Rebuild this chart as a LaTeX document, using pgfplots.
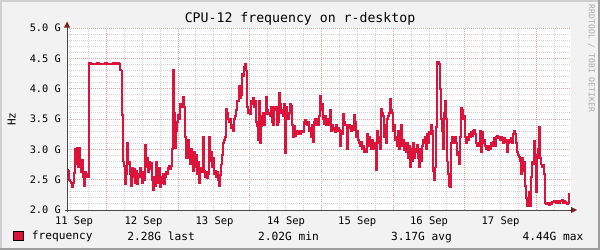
\documentclass[border=0pt]{standalone}
\usepackage{pgfplots}
\pgfplotsset{compat=1.18}
\usepackage{fontspec}
\setmainfont{DejaVu Sans Mono}
\definecolor{crim}{RGB}{220,20,60}
\definecolor{bgc}{RGB}{242,242,242}
\definecolor{shadea}{RGB}{207,207,207}
\definecolor{shadeb}{RGB}{158,158,158}
\definecolor{mgrid}{RGB}{230,165,165}
\definecolor{gridc}{RGB}{212,212,212}
\definecolor{axisc}{RGB}{70,70,70}
\definecolor{arrowc}{RGB}{128,30,30}
\definecolor{wm}{RGB}{170,170,170}
\begin{document}
\begin{tikzpicture}
\fill[bgc] (0,0) rectangle (600bp,-250bp);
\fill[shadea] (0,0) rectangle (600bp,-2bp);
\fill[shadea] (0,0) rectangle (2bp,-250bp);
\fill[shadeb] (0,-248bp) rectangle (600bp,-250bp);
\fill[shadeb] (598bp,0) rectangle (600bp,-250bp);
\begin{axis}[
 scale only axis, width=504bp, height=182bp,
 at={(67bp,-210bp)}, anchor=south west,
 xmin=67, xmax=571, ymin=2, ymax=5,
 axis line style={draw=none},
 axis background/.style={fill=white},
 xtick={106.3,178.0,249.7,321.4,393.1,464.8,536.5},
 xticklabels={},
 minor xtick={70.45,88.38,124.2,142.1,160.1,195.9,213.9,231.8,267.6,285.6,303.5,339.3,357.3,375.2,411.0,429.0,446.9,482.7,500.7,518.6,554.4},
 ytick={2,2.5,3,3.5,4,4.5,5},
 yticklabels={2.0 G,2.5 G,3.0 G,3.5 G,4.0 G,4.5 G,5.0 G},
 minor ytick={2.1,2.2,2.3,2.4,2.6,2.7,2.8,2.9,3.1,3.2,3.3,3.4,3.6,3.7,3.8,3.9,4.1,4.2,4.3,4.4,4.6,4.7,4.8,4.9},
 grid=both,
 major grid style={mgrid, line width=0.9bp, dash pattern=on 1bp off 1bp},
 minor grid style={gridc, line width=0.9bp, dash pattern=on 1bp off 1bp},
 major tick length=0pt, minor tick length=0pt,
 yticklabel style={anchor=east, inner sep=0pt, xshift=-6bp, font=\fontsize{10.3bp}{12bp}\selectfont},
 extra x ticks={74,143.5,214.5,286,357.2,429,500.5},
 extra x tick labels={11 Sep,12 Sep,13 Sep,14 Sep,15 Sep,16 Sep,17 Sep},
 extra x tick style={grid=none, major tick length=0pt, xticklabel style={anchor=north, inner sep=0pt, yshift=-6.5bp, font=\fontsize{10.5bp}{12bp}\selectfont}},
 legend style={draw=none, fill=none, inner sep=0pt, outer sep=0pt, at={(-0.1071,-0.1429)}, anchor=west, nodes={inner sep=0pt}, font=\fontsize{11.2bp}{13bp}\selectfont},
 legend image code/.code={\draw[fill=crim, draw=black, line width=1bp] (0bp,-4.5bp) rectangle (9.5bp,4.5bp); \path (17.5bp,0bp);},
]
\addplot[const plot, crim, line width=1.9bp] coordinates {
(67,2.66) (68,2.64) (69,2.50) (70,2.47) (71,2.45) (72,2.38) (73,2.45) (74,2.61) (75,3.00) (76,2.75)
(77,3.02) (78,2.70) (79,3.02) (80,2.80) (81,2.62) (82,2.82) (83,2.55) (84,2.39) (85,2.62) (86,2.55)
(87,2.60) (88,2.55) (88.7,3.54) (89,4.42) (91,4.40) (93,4.41) (95,4.41) (97,4.42) (99,4.41) (101,4.40)
(103,4.41) (105,4.42) (107,4.40) (109,4.41) (111,4.41) (113,4.42) (115,4.41) (117,4.42) (119,4.41) (120,4.31)
(121,4.30) (122,3.57) (123,2.80) (124,2.73) (125,2.42) (126,2.60) (127,3.10) (128,2.75) (129,2.80) (130,2.60)
(131,2.40) (132,2.70) (133,2.55) (134,2.68) (135,2.45) (136,2.65) (137,2.42) (138,2.60) (139,2.55) (140,2.70)
(141,2.62) (142,2.45) (143,2.62) (144,2.50) (145,3.08) (146,2.70) (147,2.85) (148,2.62) (149,2.80) (150,2.68)
(151,2.78) (152,2.50) (153,2.33) (154,2.55) (155,2.40) (156,2.80) (157,2.62) (158,2.45) (159,2.70) (160,2.38)
(161,2.55) (162,2.45) (163,2.60) (164,2.42) (165,2.55) (166,2.62) (167,2.60) (168,2.70) (169,2.72) (170,2.68)
(171,2.72) (172,3.00) (173,4.31) (174,3.60) (175,3.02) (176,3.30) (177,3.45) (178,3.57) (179,3.50) (180,3.75)
(181,3.70) (182,3.70) (183,3.86) (184,3.70) (185,3.20) (186,2.85) (187,2.90) (188,3.15) (189,2.85) (190,2.75)
(191,3.00) (192,2.80) (193,2.65) (194,2.95) (195,2.70) (196,2.90) (197,2.60) (198,2.80) (199,2.45) (200,2.65)
(201,2.70) (202,2.62) (203,3.20) (204,2.65) (205,2.55) (206,2.62) (207,2.52) (208,2.60) (209,3.20) (210,2.80)
(211,2.95) (212,2.70) (213,2.85) (214,2.60) (215,2.65) (216,2.55) (217,2.62) (218,2.50) (219,2.40) (220,2.58)
(221,2.75) (222,2.90) (223,3.10) (224,3.15) (225,3.20) (226,3.67) (227,3.60) (228,3.50) (229,3.45) (230,3.50)
(231,3.35) (232,3.40) (233,3.30) (234,3.50) (235,3.55) (236,3.65) (237,3.80) (238,3.80) (239,4.05) (240,3.85)
(241,3.90) (242,4.25) (243,4.20) (244,4.35) (245,4.40) (246,4.30) (247,3.70) (248,3.60) (249,3.65) (250,3.58)
(251,3.80) (252,3.75) (253,3.84) (254,3.70) (255,3.80) (256,3.45) (257,3.38) (258,3.15) (259,3.80) (260,3.10)
(261,3.38) (262,3.55) (263,3.60) (264,3.40) (265,3.58) (266,3.87) (267,3.65) (268,3.58) (269,3.60) (270,3.55)
(271,3.70) (272,3.45) (273,3.40) (274,3.70) (275,3.65) (276,3.70) (277,3.40) (278,3.45) (279,3.93) (280,3.75)
(281,3.60) (282,3.65) (283,3.55) (284,3.75) (285,2.94) (286,3.70) (287,3.55) (288,3.50) (289,3.60) (290,3.74)
(291,3.72) (292,3.40) (293,3.20) (294,3.38) (295,3.22) (296,3.30) (297,3.25) (298,3.28) (299,3.30) (300,3.25)
(301,3.28) (302,3.30) (303,3.28) (304,3.45) (305,3.48) (306,3.42) (307,3.40) (308,3.45) (309,3.30) (310,3.35)
(311,3.20) (312,3.40) (313,3.12) (314,3.45) (315,3.50) (316,3.40) (317,3.50) (318,3.40) (319,3.55) (320,3.88)
(321,3.65) (322,3.75) (323,3.50) (324,3.42) (325,3.55) (326,3.40) (327,3.50) (328,3.45) (329,3.40) (330,3.65)
(331,3.30) (332,3.40) (333,3.32) (334,3.35) (335,3.28) (336,3.40) (337,3.30) (338,3.35) (339,3.32) (340,3.05)
(341,3.30) (342,3.25) (343,3.58) (344,3.45) (345,3.40) (346,3.40) (347,3.00) (348,3.35) (349,3.40) (350,3.38)
(351,3.30) (352,3.38) (353,3.32) (354,3.57) (355,3.45) (356,3.20) (357,3.30) (358,3.15) (359,3.10) (360,3.05)
(361,3.12) (362,3.00) (363,3.05) (364,2.95) (365,3.00) (366,2.95) (367,3.25) (368,3.05) (369,3.20) (370,3.10)
(371,3.00) (372,3.15) (373,3.05) (374,3.00) (375,3.10) (376,2.66) (377,3.30) (378,3.10) (379,3.20) (380,3.00)
(381,3.67) (382,3.60) (383,3.55) (384,3.20) (385,3.40) (386,3.10) (387,3.50) (388,3.55) (389,3.60) (390,3.83)
(391,3.65) (392,3.60) (393,3.30) (394,3.40) (395,3.15) (396,3.20) (397,3.05) (398,3.30) (399,3.00) (400,3.10)
(401,3.40) (402,3.05) (403,3.15) (404,2.98) (405,3.10) (406,2.95) (407,3.10) (408,2.85) (409,3.05) (410,2.70)
(411,3.00) (412,2.80) (413,3.10) (414,2.85) (415,3.00) (416,2.95) (417,3.08) (418,2.85) (419,2.70) (420,3.00)
(421,2.80) (422,3.05) (423,3.15) (424,3.10) (425,3.20) (426,3.00) (427,3.25) (428,3.10) (429,3.28) (430,3.25)
(431,3.40) (432,3.30) (433,2.65) (434,2.50) (435,2.70) (436,3.37) (437,4.44) (438,4.44) (439,4.40) (440,4.00)
(441,3.50) (442,3.30) (443,3.00) (444,3.60) (445,3.80) (446,3.50) (447,2.80) (448,2.60) (449,2.40) (450,2.38)
(451,3.10) (452,3.20) (453,3.10) (454,3.16) (455,3.20) (456,3.10) (457,2.90) (458,2.95) (459,2.75) (460,3.20)
(461,3.69) (462,3.65) (463,3.50) (464,3.55) (465,3.20) (466,3.10) (467,3.20) (468,3.15) (469,3.25) (470,3.20)
(471,3.28) (472,3.22) (473,3.30) (474,3.32) (475,3.25) (476,3.10) (477,3.05) (478,3.10) (479,3.05) (480,3.30)
(481,2.96) (482,3.28) (483,3.10) (484,3.15) (485,3.05) (486,3.00) (487,3.05) (488,2.98) (489,3.05) (490,3.00)
(491,3.10) (492,3.05) (493,3.12) (494,3.18) (495,3.05) (496,3.20) (497,3.22) (498,3.18) (499,3.20) (500,3.15)
(501,3.20) (502,3.15) (503,3.10) (504,3.18) (505,3.12) (506,3.15) (507,2.95) (508,3.10) (509,3.15) (510,3.12)
(511,3.18) (512,3.10) (513,3.25) (514,3.30) (515,3.25) (516,3.10) (517,2.95) (518,2.90) (519,2.88) (520,2.80)
(521,2.60) (522,2.85) (523,2.65) (524,2.80) (525,2.40) (526,2.20) (527,2.06) (528,2.06) (529,2.30) (530,2.06)
(531,2.55) (532,2.80) (533,2.75) (534,3.14) (535,2.90) (536,2.30) (537,2.85) (538,3.00) (539,3.37) (540,2.85)
(541,2.75) (542,2.70) (543,2.75) (544,2.60) (545,2.11) (546,2.10) (547,2.10) (548,2.12) (549,2.08) (550,2.12)
(551,2.10) (552,2.14) (553,2.13) (554,2.15) (555,2.14) (556,2.12) (557,2.15) (558,2.14) (559,2.12) (560,2.15)
(561,2.14) (562,2.16) (563,2.12) (564,2.15) (565,2.14) (566,2.12) (567,2.10) (568,2.11) (569,2.28)
};
\addlegendentry{frequency}
\end{axis}
% axis lines with arrows
\draw[axisc, line width=1bp] (65bp,-210bp) -- (572bp,-210bp);
\draw[axisc, line width=1bp] (67bp,-212bp) -- (67bp,-26bp);
\fill[arrowc] (577bp,-210bp) -- (571bp,-207bp) -- (571bp,-213bp) -- cycle;
\fill[arrowc] (67bp,-21.5bp) -- (64bp,-27.5bp) -- (70bp,-27.5bp) -- cycle;
% title and labels
\node[font=\fontsize{13.2bp}{15bp}\selectfont, inner sep=0pt] at (300bp,-19bp) {CPU-12 frequency on r-desktop};
\node[font=\fontsize{11bp}{13bp}\selectfont, inner sep=0pt, rotate=90] at (11.5bp,-119bp) {Hz};
\node[font=\fontsize{8.1bp}{10bp}\selectfont, inner sep=0pt, rotate=-90, text=wm] at (591.5bp,-58.5bp) {RRDTOOL / TOBI OETIKER};
\begin{scope}[every node/.style={font=\fontsize{11.2bp}{13bp}\selectfont, inner sep=0pt, anchor=base east}]
\node at (195bp,-240bp) {2.28G last};
\node at (319bp,-240bp) {2.02G min};
\node at (452bp,-240bp) {3.17G avg};
\node at (583.5bp,-240bp) {4.44G max};
\end{scope}
\pgfresetboundingbox
\path[use as bounding box] (0,0) rectangle (600bp,-250bp);
\end{tikzpicture}
\end{document}
